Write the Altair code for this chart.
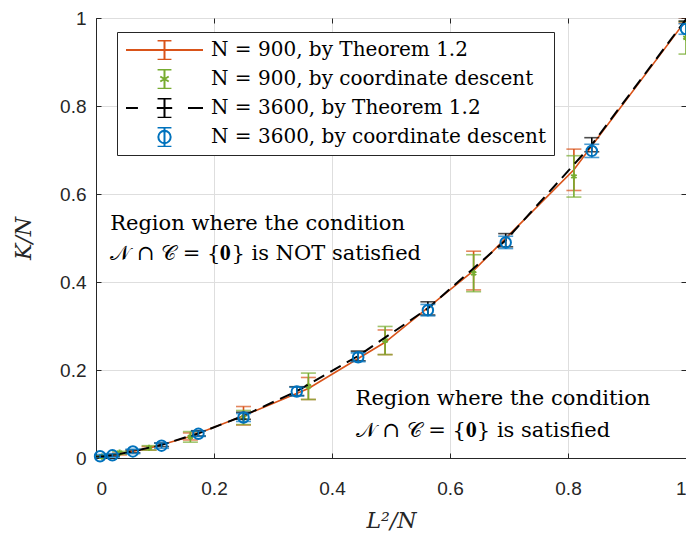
import altair as alt
import pandas as pd

# ---------------- data ----------------
series_names = [
    "N = 900, by Theorem 1.2",
    "N = 900, by coordinate descent",
    "N = 3600, by Theorem 1.2",
    "N = 3600, by coordinate descent",
]
series_colors = ["#D95319", "#77AC30", "#000000", "#0072BD"]

x900 = [0.01, 0.04, 0.09, 0.16, 0.25, 0.36, 0.49, 0.64, 0.81, 1.00]
thm900 = [0.003, 0.009, 0.022, 0.049, 0.096, 0.158, 0.263, 0.426, 0.655, 0.995]
thm900_err = [0.001, 0.002, 0.004, 0.008, 0.021, 0.025, 0.028, 0.044, 0.047, 0.006]
cd900 = [0.003, 0.012, 0.023, 0.048, 0.092, 0.163, 0.267, 0.420, 0.640, 0.955]
cd900_err = [0.002, 0.003, 0.005, 0.012, 0.016, 0.030, 0.032, 0.042, 0.047, 0.037]

x3600 = [0.0069, 0.0278, 0.0625, 0.1111, 0.1736, 0.2500,
         0.3403, 0.4444, 0.5625, 0.6944, 0.8403, 1.0000]
thm3600 = [0.003, 0.006, 0.015, 0.030, 0.056, 0.096,
           0.152, 0.232, 0.340, 0.495, 0.712, 0.997]
thm3600_err = [0.001, 0.002, 0.003, 0.004, 0.006, 0.008,
               0.010, 0.011, 0.015, 0.015, 0.016, 0.004]
cd3600 = [0.004, 0.006, 0.015, 0.028, 0.055, 0.092,
          0.151, 0.229, 0.336, 0.490, 0.698, 0.975]
cd3600_err = [0.004, 0.004, 0.005, 0.006, 0.006, 0.009,
              0.010, 0.010, 0.013, 0.014, 0.015, 0.012]

x_ticks = [0, 0.2, 0.4, 0.6, 0.8, 1]
y_ticks = [0, 0.2, 0.4, 0.6, 0.8, 1]

note_top = ["Region where the condition", "𝒩 ∩ 𝒞 = {𝟎} is NOT satisfied"]
note_bottom = ["Region where the condition", "𝒩 ∩ 𝒞 = {𝟎} is satisfied"]


def frame(xs, ys, es, name):
    return pd.DataFrame({
        "x": xs, "y": ys,
        "lo": [a - b for a, b in zip(ys, es)],
        "hi": [a + b for a, b in zip(ys, es)],
        "series": name,
    })


d_thm900 = frame(x900, thm900, thm900_err, series_names[0])
d_cd900 = frame(x900, cd900, cd900_err, series_names[1])
d_thm3600 = frame(x3600, thm3600, thm3600_err, series_names[2])
d_cd3600 = frame(x3600, cd3600, cd3600_err, series_names[3])
d_all = pd.concat([d_thm900, d_cd900, d_thm3600, d_cd3600], ignore_index=True)

# ---------------- styling ----------------
SERIF = "DejaVu Serif"
SANS = "Liberation Sans"
AXC = "#262626"

xs = alt.Scale(domain=[0, 1], nice=False)
ys = alt.Scale(domain=[0, 1], nice=False)

# main axes (labels, titles, grid)
X_main = alt.X("x:Q", scale=xs, title="L²/N",
               axis=alt.Axis(values=x_ticks, format="~g", grid=True, ticks=False,
                             labelPadding=21, titlePadding=12))
Y_main = alt.Y("y:Q", scale=ys, title="K/N",
               axis=alt.Axis(values=y_ticks, format="~g", grid=True, ticks=False,
                             labelPadding=10, titlePadding=24))


def tick_axis(orient):
    return alt.Axis(orient=orient, values=x_ticks, offset=-5, tickSize=5,
                    tickColor=AXC, tickWidth=1, labels=False, domain=False,
                    grid=False, title=None)


X_bottom_ticks = alt.X("x:Q", scale=xs, axis=tick_axis("bottom"))
Y_left_ticks = alt.Y("y:Q", scale=ys, axis=tick_axis("left"))
X_top_ticks = alt.X("x:Q", scale=xs, axis=tick_axis("top"))
Y_right_ticks = alt.Y("y:Q", scale=ys, axis=tick_axis("right"))
X_n = alt.X("x:Q", scale=xs, axis=None)
Y_n = alt.Y("y:Q", scale=ys, axis=None)

CAP = "M0,-0.25V0.25M-0.18,-0.25H0.18M-0.18,0.25H0.18"
legend_paths = [
    "M-1,0H1" + CAP,
    CAP + "M0,-0.13V0.13M-0.11,-0.065L0.11,0.065M-0.11,0.065L0.11,-0.065",
    "M-1,0H-0.69M-0.2,0H0.2M0.61,0H1" + CAP,
    CAP + "M-0.16,0A0.16,0.16,0,1,0,0.16,0A0.16,0.16,0,1,0,-0.16,0",
]
ASTERISK = "M0,-1V1M-0.866,-0.5L0.866,0.5M-0.866,0.5L0.866,-0.5"


def errbars(df, color, width=1.6):
    base = alt.Chart(df)
    rule = base.mark_rule(color=color, strokeWidth=width, clip=True).encode(
        x=X_n, y=alt.Y("lo:Q", scale=ys, axis=None), y2="hi:Q")
    lo = base.mark_tick(color=color, orient="horizontal", size=15,
                        thickness=width, clip=True).encode(
        x=X_n, y=alt.Y("lo:Q", scale=ys, axis=None))
    hi = base.mark_tick(color=color, orient="horizontal", size=15,
                        thickness=width, clip=True).encode(
        x=X_n, y=alt.Y("hi:Q", scale=ys, axis=None))
    return [rule, lo, hi]


orange_line = alt.Chart(d_thm900).mark_line(
    color=series_colors[0], strokeWidth=1.6).encode(x=X_main, y=Y_main)
green_pts = alt.Chart(d_cd900).mark_point(
    shape=ASTERISK, size=40, strokeWidth=2, filled=False,
    color=series_colors[1], opacity=1).encode(x=X_bottom_ticks, y=Y_left_ticks)
black_line = alt.Chart(d_thm3600).mark_line(
    color=series_colors[2], strokeWidth=2, strokeDash=[12, 7]).encode(
    x=X_top_ticks, y=Y_right_ticks)
blue_pts = alt.Chart(d_cd3600).mark_point(
    shape="circle", size=110, strokeWidth=2, filled=False,
    color=series_colors[3], opacity=1).encode(x=X_n, y=Y_n)

legend_layer = alt.Chart(d_all).mark_point(opacity=0, filled=False).encode(
    x=X_n, y=Y_n,
    color=alt.Color("series:N", scale=alt.Scale(domain=series_names, range=series_colors),
                    legend=alt.Legend(
                        orient="none", legendX=21, legendY=14, title=None,
                        symbolSize=5929, symbolStrokeWidth=2, symbolOpacity=1,
                        clipHeight=20, rowPadding=9, padding=8,
                        labelFont=SERIF, labelFontSize=20, labelColor="#000000",
                        labelOffset=7, labelLimit=0,
                        strokeColor=AXC, fillColor="#ffffff", cornerRadius=0)),
    shape=alt.Shape("series:N", scale=alt.Scale(domain=series_names, range=legend_paths),
                    legend=None),
)

notes = pd.DataFrame({
    "x": [0.024, 0.024, 0.44, 0.44],
    "y": [0.531, 0.464, 0.133, 0.061],
    "t": note_top + note_bottom,
})
note_layer = alt.Chart(notes).mark_text(
    font=SERIF, fontSize=21, align="left", baseline="middle", color="#000000"
).encode(x=X_n, y=Y_n, text="t:N")

layers = [orange_line] + errbars(d_thm900, series_colors[0]) \
    + errbars(d_cd900, series_colors[1]) + [green_pts, black_line] \
    + errbars(d_thm3600, series_colors[2]) + errbars(d_cd3600, series_colors[3]) \
    + [blue_pts, note_layer, legend_layer]

chart = alt.layer(*layers).resolve_scale(
    x="shared", y="shared"
).resolve_axis(
    x="independent", y="independent"
).properties(
    width=590, height=440,
    padding={"left": 88, "top": 10, "right": 0, "bottom": 73},
    autosize=alt.AutoSizeParams(type="none"),
).configure_view(
    stroke=AXC, strokeWidth=1,
).configure_axis(
    labelFont=SANS, labelFontSize=19, labelColor=AXC,
    titleFont=SERIF, titleFontSize=22, titleFontStyle="italic",
    titleFontWeight="normal", titleColor=AXC,
    domainColor=AXC, domainWidth=1,
    gridColor="#dedede", gridWidth=1,
)

chart.save("out.html", embed_options={"renderer": "svg", "actions": False})
